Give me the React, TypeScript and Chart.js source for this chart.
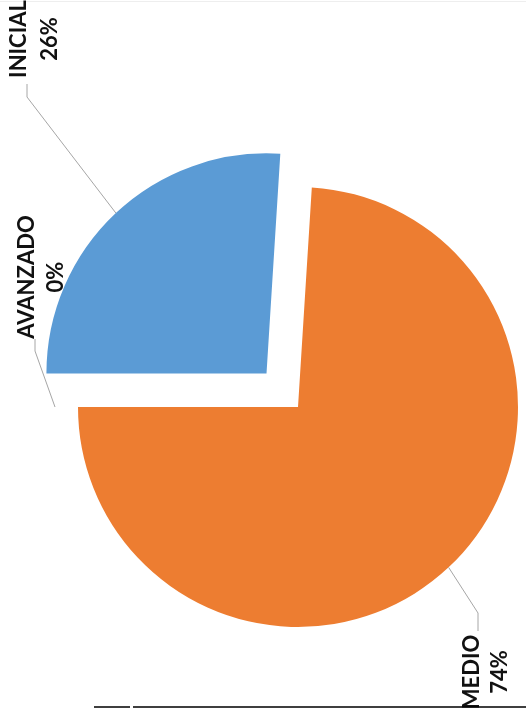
import React, { useEffect, useRef } from "react";
import { Chart, registerables } from "chart.js";

Chart.register(...registerables);

const categories = ["INICIAL", "MEDIO", "AVANZADO"];
const values = [26, 74, 0];
const percentLabels = ["26%", "74%", "0%"];
const colors = ["#5b9bd5", "#ed7d31", "#a5a5a5"];

// layout for the rotated labels (screen coords): column x for name, column x for %, center y along text
const labelLayout = [
  { nameX: 19, pctX: 50, cy: 39, elbow: [27, 97], end: [27, 84], leadExtra: 0 },
  { nameX: 472, pctX: 500, cy: 672, elbow: [478, 613], end: [478, 631], leadExtra: 0 },
  { nameX: 27, pctX: 56, cy: 277, elbow: [35, 351], end: [35, 339], leadExtra: 23 },
];

const labelPlugin = {
  id: "rotatedLabels",
  beforeDraw(chart: any) {
    const ctx = chart.ctx;
    ctx.save();
    ctx.fillStyle = "#ffffff";
    ctx.fillRect(0, 0, chart.width, chart.height);
    ctx.strokeStyle = "#eeeeee";
    ctx.lineWidth = 1;
    ctx.beginPath();
    ctx.moveTo(0, 1.5);
    ctx.lineTo(chart.width, 1.5);
    ctx.stroke();
    ctx.restore();
  },
  afterDatasetsDraw(chart: any) {
    const ctx = chart.ctx;
    const meta = chart.getDatasetMeta(0);
    ctx.save();
    meta.data.forEach((arc: any, i: number) => {
      const lay = labelLayout[i];
      const opts = arc.options;
      const circ = arc.endAngle - arc.startAngle;
      const half = (arc.startAngle + arc.endAngle) / 2;
      const shift = circ === 0 ? 0 : (opts.offset || 0) / 4;
      const r = arc.outerRadius + shift + lay.leadExtra;
      const ex = arc.x + Math.cos(half) * r;
      const ey = arc.y + Math.sin(half) * r;
      ctx.strokeStyle = "#a6a6a6";
      ctx.lineWidth = 1;
      ctx.beginPath();
      ctx.moveTo(ex, ey);
      ctx.lineTo(lay.elbow[0], lay.elbow[1]);
      ctx.lineTo(lay.end[0], lay.end[1]);
      ctx.stroke();

      ctx.fillStyle = "#111111";
      ctx.font = "bold 22px Lato";
      ctx.textAlign = "center";
      ctx.textBaseline = "middle";
      ctx.save();
      ctx.translate(lay.nameX, lay.cy);
      ctx.rotate(-Math.PI / 2);
      ctx.fillText(categories[i], 0, 0);
      ctx.restore();
      ctx.save();
      ctx.translate(lay.pctX, lay.cy);
      ctx.rotate(-Math.PI / 2);
      ctx.fillText(percentLabels[i], 0, 0);
      ctx.restore();
    });
    // bottom border artifacts
    ctx.strokeStyle = "#000000";
    ctx.lineWidth = 1.5;
    ctx.beginPath();
    ctx.moveTo(94, 707);
    ctx.lineTo(130, 707);
    ctx.moveTo(133, 707);
    ctx.lineTo(chart.width, 707);
    ctx.stroke();
    ctx.restore();
  },
};

export default function App() {
  const ref = useRef<HTMLCanvasElement | null>(null);
  useEffect(() => {
    if (!ref.current) return;
    const chart = new Chart(ref.current, {
      type: "pie",
      data: {
        labels: categories,
        datasets: [
          {
            data: values,
            backgroundColor: colors,
            borderWidth: 0,
            offset: [184, 0, 0],
            clip: false,
          } as any,
        ],
      },
      options: {
        responsive: false,
        animation: false,
        devicePixelRatio: 1,
        rotation: 270,
        radius: 220,
        layout: { padding: { left: 70, right: 0, top: 106, bottom: 0 } },
        plugins: {
          legend: { display: false },
          tooltip: { enabled: false },
        },
        events: [],
      } as any,
      plugins: [labelPlugin],
    });
    return () => chart.destroy();
  }, []);
  return (
    <div style={{ position: "fixed", left: 0, top: 0, width: 526, height: 708, background: "#fff" }}>
      <canvas ref={ref} width={526} height={708} style={{ display: "block", width: 526, height: 708 }} />
    </div>
  );
}
